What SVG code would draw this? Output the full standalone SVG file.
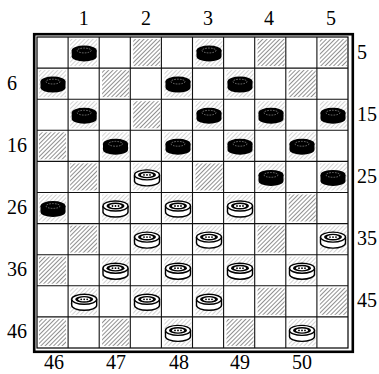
<svg xmlns="http://www.w3.org/2000/svg" xmlns:xlink="http://www.w3.org/1999/xlink" width="379" height="374" viewBox="0 0 379 374">
<style>
.lbl{font-family:"Liberation Serif","Times New Roman",serif;font-size:20px;fill:#000}
.grid line{stroke:#111;stroke-width:1.1}
.hd{fill:url(#hatch)}
.ho{fill:url(#hatch);opacity:.4}
</style>
<defs>
<pattern id="hatch" patternUnits="userSpaceOnUse" width="3" height="3" patternTransform="rotate(45)">
<line x1="0" y1="0" x2="0" y2="3" stroke="#222" stroke-width="1"/>
</pattern>
<g id="bp">
<path d="M-12.5,-3 v6 a12.5,5 0 0 0 25,0 v-6 z" fill="#000"/>
<ellipse cx="0" cy="-3" rx="12.5" ry="5" fill="#000"/>
<ellipse cx="0" cy="-3" rx="7" ry="2.4" fill="none" stroke="#8a8a8a" stroke-width="0.8" stroke-dasharray="1.6 1.2"/>
</g>
<g id="wp">
<path d="M-12.5,-3 v6 a12.5,5 0 0 0 25,0 v-6" fill="#fff" stroke="#000" stroke-width="1.4"/>
<ellipse cx="0" cy="-3" rx="12.5" ry="5" fill="#fff" stroke="#000" stroke-width="1.4"/>
<ellipse cx="0" cy="-3" rx="9" ry="3.4" fill="#000"/>
<ellipse cx="0" cy="-3" rx="6.2" ry="2" fill="#fff"/>
<circle cx="-3" cy="-3" r="0.9" fill="#000"/>
<circle cx="0" cy="-3" r="0.9" fill="#000"/>
<circle cx="3" cy="-3" r="0.9" fill="#000"/>
</g>
</defs>
<rect width="379" height="374" fill="#fff"/>
<g id="board">
<rect x="34.2" y="34.2" width="318.6" height="317.6" fill="none" stroke="#000" stroke-width="2.6"/>
<rect x="37" y="37" width="311" height="311" fill="none" stroke="#000" stroke-width="1.2"/>
<g id="hatching">
<rect class="hd" x="133.2" y="39" width="27" height="27"/>
<rect class="hd" x="257.6" y="39" width="27" height="27"/>
<rect class="hd" x="319.8" y="39" width="27" height="27"/>
<rect class="hd" x="102.1" y="70.1" width="27" height="27"/>
<rect class="hd" x="288.7" y="70.1" width="27" height="27"/>
<rect class="hd" x="133.2" y="101.2" width="27" height="27"/>
<rect class="hd" x="39" y="132.3" width="27" height="27"/>
<rect class="hd" x="70.1" y="163.4" width="27" height="27"/>
<rect class="hd" x="195.5" y="163.4" width="27" height="27"/>
<rect class="hd" x="288.7" y="194.5" width="27" height="27"/>
<rect class="hd" x="70.1" y="225.6" width="27" height="27"/>
<rect class="hd" x="257.6" y="225.6" width="27" height="27"/>
<rect class="hd" x="39" y="256.7" width="27" height="27"/>
<rect class="hd" x="257.6" y="287.8" width="27" height="27"/>
<rect class="hd" x="319.8" y="287.8" width="27" height="27"/>
<rect class="hd" x="39" y="318.9" width="27" height="27"/>
<rect class="hd" x="102.1" y="318.9" width="27" height="27"/>
<rect class="hd" x="226.5" y="318.9" width="27" height="27"/>
<rect class="ho" x="70.1" y="39" width="27" height="27"/>
<rect class="ho" x="195.5" y="39" width="27" height="27"/>
<rect class="ho" x="39" y="70.1" width="27" height="27"/>
<rect class="ho" x="164.4" y="70.1" width="27" height="27"/>
<rect class="ho" x="226.5" y="70.1" width="27" height="27"/>
<rect class="ho" x="70.1" y="101.2" width="27" height="27"/>
<rect class="ho" x="195.5" y="101.2" width="27" height="27"/>
<rect class="ho" x="257.6" y="101.2" width="27" height="27"/>
<rect class="ho" x="319.8" y="101.2" width="27" height="27"/>
<rect class="ho" x="102.1" y="132.3" width="27" height="27"/>
<rect class="ho" x="164.4" y="132.3" width="27" height="27"/>
<rect class="ho" x="226.5" y="132.3" width="27" height="27"/>
<rect class="ho" x="288.7" y="132.3" width="27" height="27"/>
<rect class="ho" x="133.2" y="163.4" width="27" height="27"/>
<rect class="ho" x="257.6" y="163.4" width="27" height="27"/>
<rect class="ho" x="319.8" y="163.4" width="27" height="27"/>
<rect class="ho" x="39" y="194.5" width="27" height="27"/>
<rect class="ho" x="102.1" y="194.5" width="27" height="27"/>
<rect class="ho" x="164.4" y="194.5" width="27" height="27"/>
<rect class="ho" x="226.5" y="194.5" width="27" height="27"/>
<rect class="ho" x="133.2" y="225.6" width="27" height="27"/>
<rect class="ho" x="195.5" y="225.6" width="27" height="27"/>
<rect class="ho" x="319.8" y="225.6" width="27" height="27"/>
<rect class="ho" x="102.1" y="256.7" width="27" height="27"/>
<rect class="ho" x="164.4" y="256.7" width="27" height="27"/>
<rect class="ho" x="226.5" y="256.7" width="27" height="27"/>
<rect class="ho" x="288.7" y="256.7" width="27" height="27"/>
<rect class="ho" x="70.1" y="287.8" width="27" height="27"/>
<rect class="ho" x="133.2" y="287.8" width="27" height="27"/>
<rect class="ho" x="195.5" y="287.8" width="27" height="27"/>
<rect class="ho" x="164.4" y="318.9" width="27" height="27"/>
<rect class="ho" x="288.7" y="318.9" width="27" height="27"/>
</g>
<g class="grid">
<line x1="68.1" y1="37" x2="68.1" y2="348"/>
<line x1="99.2" y1="37" x2="99.2" y2="348"/>
<line x1="130.3" y1="37" x2="130.3" y2="348"/>
<line x1="161.4" y1="37" x2="161.4" y2="348"/>
<line x1="192.5" y1="37" x2="192.5" y2="348"/>
<line x1="223.6" y1="37" x2="223.6" y2="348"/>
<line x1="254.7" y1="37" x2="254.7" y2="348"/>
<line x1="285.8" y1="37" x2="285.8" y2="348"/>
<line x1="316.9" y1="37" x2="316.9" y2="348"/>
<line x1="37" y1="68.1" x2="348" y2="68.1"/>
<line x1="37" y1="99.2" x2="348" y2="99.2"/>
<line x1="37" y1="130.3" x2="348" y2="130.3"/>
<line x1="37" y1="161.4" x2="348" y2="161.4"/>
<line x1="37" y1="192.5" x2="348" y2="192.5"/>
<line x1="37" y1="223.6" x2="348" y2="223.6"/>
<line x1="37" y1="254.7" x2="348" y2="254.7"/>
<line x1="37" y1="285.8" x2="348" y2="285.8"/>
<line x1="37" y1="316.9" x2="348" y2="316.9"/>
</g>
</g>
<g id="black-pieces">
<use xlink:href="#bp" x="84.2" y="53.5"/>
<use xlink:href="#bp" x="209" y="53.5"/>
<use xlink:href="#bp" x="53" y="84.6"/>
<use xlink:href="#bp" x="178" y="84.6"/>
<use xlink:href="#bp" x="240" y="84.6"/>
<use xlink:href="#bp" x="84.2" y="115.7"/>
<use xlink:href="#bp" x="209" y="115.7"/>
<use xlink:href="#bp" x="271" y="115.7"/>
<use xlink:href="#bp" x="333" y="115.7"/>
<use xlink:href="#bp" x="115.5" y="146.8"/>
<use xlink:href="#bp" x="178" y="146.8"/>
<use xlink:href="#bp" x="240" y="146.8"/>
<use xlink:href="#bp" x="302" y="146.8"/>
<use xlink:href="#bp" x="271" y="177.9"/>
<use xlink:href="#bp" x="333" y="177.9"/>
<use xlink:href="#bp" x="53" y="209"/>
</g>
<g id="white-pieces">
<use xlink:href="#wp" x="147" y="177.9"/>
<use xlink:href="#wp" x="115.5" y="209"/>
<use xlink:href="#wp" x="178" y="209"/>
<use xlink:href="#wp" x="240" y="209"/>
<use xlink:href="#wp" x="147" y="240.1"/>
<use xlink:href="#wp" x="209" y="240.1"/>
<use xlink:href="#wp" x="333" y="240.1"/>
<use xlink:href="#wp" x="115.5" y="271.2"/>
<use xlink:href="#wp" x="178" y="271.2"/>
<use xlink:href="#wp" x="240" y="271.2"/>
<use xlink:href="#wp" x="302" y="271.2"/>
<use xlink:href="#wp" x="84.2" y="302.3"/>
<use xlink:href="#wp" x="147" y="302.3"/>
<use xlink:href="#wp" x="209" y="302.3"/>
<use xlink:href="#wp" x="178" y="333.4"/>
<use xlink:href="#wp" x="302" y="333.4"/>
</g>
<g id="labels" class="lbl">
<text x="83.7" y="25" text-anchor="middle">1</text>
<text x="146" y="25" text-anchor="middle">2</text>
<text x="208" y="25" text-anchor="middle">3</text>
<text x="269" y="25" text-anchor="middle">4</text>
<text x="331" y="25" text-anchor="middle">5</text>
<text x="7" y="90">6</text>
<text x="7" y="152">16</text>
<text x="7" y="214">26</text>
<text x="7" y="276">36</text>
<text x="7" y="338">46</text>
<text x="357" y="59">5</text>
<text x="357" y="121">15</text>
<text x="357" y="183">25</text>
<text x="357" y="245">35</text>
<text x="357" y="307">45</text>
<text x="54" y="369" text-anchor="middle">46</text>
<text x="116" y="369" text-anchor="middle">47</text>
<text x="179" y="369" text-anchor="middle">48</text>
<text x="240" y="369" text-anchor="middle">49</text>
<text x="302" y="369" text-anchor="middle">50</text>
</g>
</svg>
